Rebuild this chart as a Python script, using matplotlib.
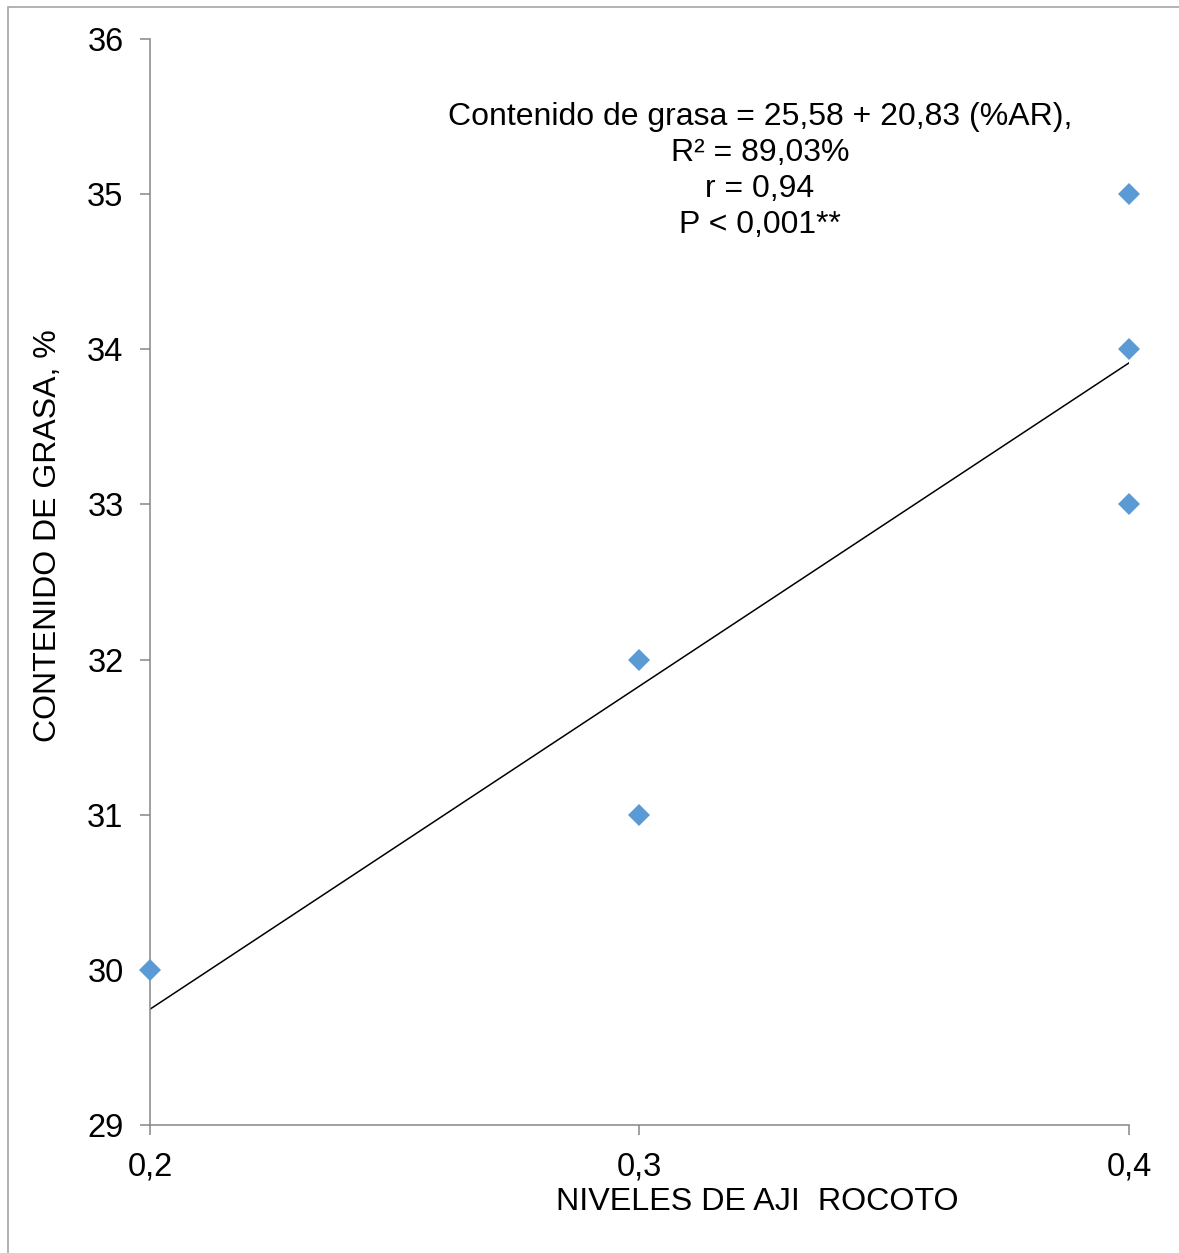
import matplotlib
matplotlib.use('Agg')
import matplotlib.pyplot as plt
from matplotlib.patches import Rectangle

plt.rcParams['font.family'] = ['Liberation Sans', 'DejaVu Sans']

# data
niveles = [0.2, 0.3, 0.3, 0.4, 0.4, 0.4]
grasa = [30, 32, 31, 35, 34, 33]
x_ticks = [0.2, 0.3, 0.4]
x_tick_labels = ['0,2', '0,3', '0,4']
y_ticks = [29, 30, 31, 32, 33, 34, 35, 36]
intercepto = 25.58
pendiente = 20.83

axis_col = '#868686'
point_col = '#5B9BD5'

fig = plt.figure(figsize=(11.79, 12.53), dpi=100)
ax = fig.add_axes([0.1272, 0.1022, 0.8304, 0.8667])

# outer frame of the chart area
fig.patches.append(Rectangle((0.0068, -0.05), 1.1, 1.0444, transform=fig.transFigure,
                             fill=False, edgecolor='#A6A6A6', linewidth=1.2))

# trend line
xl = [min(niveles), max(niveles)]
yl = [intercepto + pendiente * v for v in xl]
ax.plot(xl, yl, color='black', linewidth=1.1, zorder=2)

ax.plot(niveles, grasa, linestyle='none', marker='D', markersize=11.5,
        color=point_col, markeredgewidth=0, zorder=3, clip_on=False)

ax.set_xlim(0.2, 0.4)
ax.set_ylim(29, 36)
ax.set_xticks(x_ticks)
ax.set_xticklabels(x_tick_labels)
ax.set_yticks(y_ticks)

for s in ['top', 'right']:
    ax.spines[s].set_visible(False)
for s in ['left', 'bottom']:
    ax.spines[s].set_color(axis_col)
    ax.spines[s].set_linewidth(1.1)

ax.tick_params(axis='both', direction='out', length=7, width=1.1, color=axis_col,
               labelsize=23.5, pad=12)

ax.set_xlabel('NIVELES DE AJI  ROCOTO', fontsize=23.2)
ax.xaxis.set_label_coords(0.62, -0.071)
ax.xaxis.label.set_va('center')
ax.set_ylabel('CONTENIDO DE GRASA, %', fontsize=23)
ax.yaxis.set_label_coords(-0.104, 0.543)
ax.yaxis.label.set_va('center')

ax.text(0.3246, 35.15,
        'Contenido de grasa = 25,58 + 20,83 (%AR),\nR² = 89,03%\nr = 0,94\nP < 0,001**',
        ha='center', va='center', fontsize=23, linespacing=1.27)

fig.savefig('out.png', dpi=100)
